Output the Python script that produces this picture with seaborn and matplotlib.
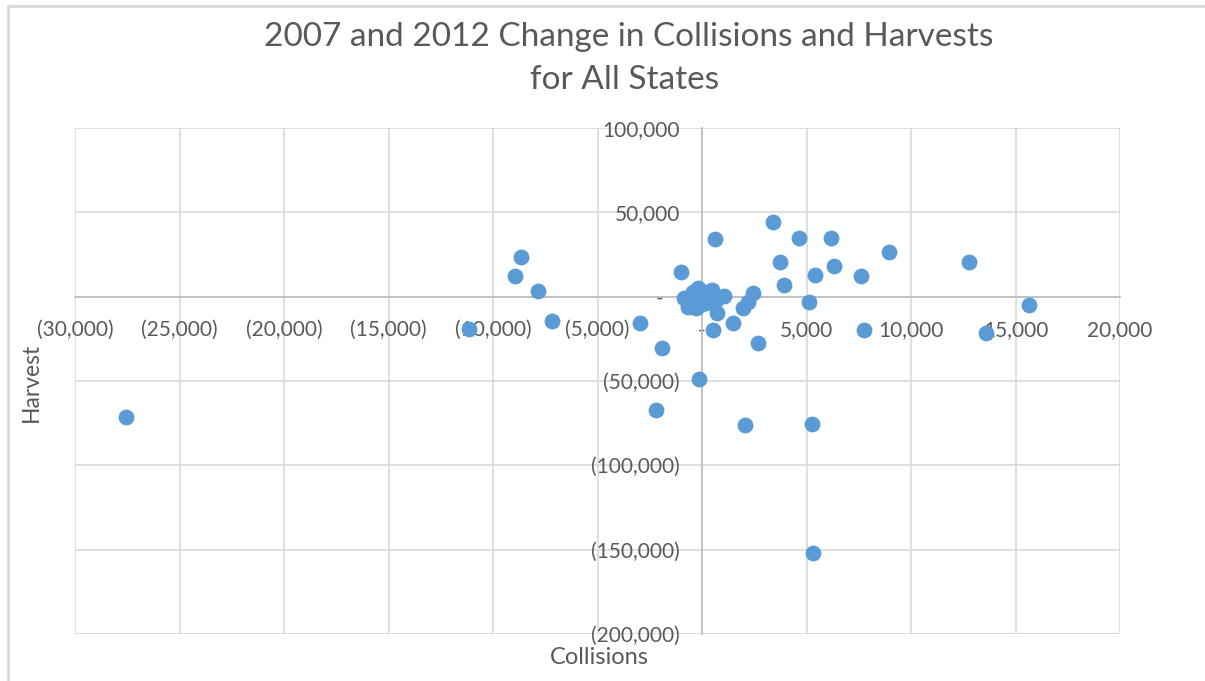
import matplotlib
matplotlib.use("Agg")
import matplotlib.pyplot as plt
from matplotlib.ticker import FuncFormatter, MultipleLocator
from matplotlib.lines import Line2D
import seaborn as sns
import pandas as pd

# Change in collisions and harvests between 2007 and 2012, one point per state
collisions = [
    -27560, -8660, -8950, -7850, -7180, -11150, -2970, -1910, -2200, -140,
    620, -1000, 3400, 4640, 6170, 8950, 12780, 3730, 6320, 5410,
    7610, 3920, 5120, 15650, 7750, 13590, 720, 1480, 530, 2440,
    2200, 1960, 2680, 2060, 5260, 5310,
    -860, -670, -430, -190, -100, 100, 330, 480, 670, 1050,
    -290, -570, 190, -100,
]
harvest = [
    -71300, 23500, 12300, 3400, -14400, -19200, -15500, -30400, -67200, -48700,
    34200, 14600, 44300, 34800, 34800, 26500, 20600, 20600, 18200, 12900,
    12300, 6900, -3200, -4900, -19700, -21500, -9700, -15600, -19700, 2200,
    -3100, -6700, -27400, -76100, -75500, -152000,
    -800, -6100, 2800, 5200, -800, 2800, 1000, 4000, -2000, 400,
    -6700, -2000, -3700, -4900,
]
title_lines = ["2007 and 2012 Change in Collisions and Harvests", "for All States"]
x_title = "Collisions"
y_title = "Harvest"

df = pd.DataFrame({"Collisions": collisions, "Harvest": harvest})

sns.set_theme(style="white")
plt.rcParams["font.family"] = ["Lato", "DejaVu Sans"]

TEXT = "#595959"
GRID = "#D9D9D9"
AXIS = "#BFBFBF"
BLUE = "#5B9BD5"

fig = plt.figure(figsize=(12.05, 6.81), dpi=100)
ax = fig.add_axes([75 / 1205, 1 - 634 / 681, (1120 - 75) / 1205, (634 - 128) / 681])

sns.scatterplot(data=df, x="Collisions", y="Harvest", ax=ax, color=BLUE,
                s=130, linewidth=0, zorder=3)

ax.set_xlim(-30000, 20000)
ax.set_ylim(-200000, 100000)
ax.xaxis.set_major_locator(MultipleLocator(5000))
ax.yaxis.set_major_locator(MultipleLocator(50000))


def acct(v, pos=None, trail=""):
    if abs(v) < 1e-9:
        return "-" + trail
    s = f"{abs(v):,.0f}"
    return f"({s})" if v < 0 else s


ax.xaxis.set_major_formatter(FuncFormatter(lambda v, p: acct(v)))
ax.yaxis.set_major_formatter(FuncFormatter(lambda v, p: acct(v, trail="   ")))

ax.grid(True, color=GRID, linewidth=1.2, zorder=0)
ax.set_axisbelow(True)

# axes cross at the origin
for side in ["top", "right"]:
    ax.spines[side].set_visible(False)
ax.spines["left"].set_position(("data", 0))
ax.spines["bottom"].set_position(("data", 0))
for side in ["left", "bottom"]:
    ax.spines[side].set_color(AXIS)
    ax.spines[side].set_linewidth(1.3)
    ax.spines[side].set_zorder(1)

ax.tick_params(axis="x", length=0, pad=17, labelsize=15, labelcolor=TEXT)
ax.tick_params(axis="y", length=0, pad=16, labelsize=15, labelcolor=TEXT)
ax.set_xlabel("")
ax.set_ylabel("")

fig.text(599 / 1205, 1 - 657 / 681, x_title, ha="center", va="center",
         fontsize=17, color=TEXT)
fig.text(31 / 1205, 1 - 382 / 681, y_title, ha="center", va="center",
         rotation=90, fontsize=16.5, color=TEXT)

fig.text(629 / 1205, 1 - 37 / 681, title_lines[0], ha="center", va="center",
         fontsize=24, color=TEXT)
fig.text(625 / 1205, 1 - 80 / 681, title_lines[1], ha="center", va="center",
         fontsize=24, color=TEXT)

# chart frame
fig.add_artist(Line2D([8 / 1205, 1], [1 - 6 / 681, 1 - 6 / 681],
                      transform=fig.transFigure, color=GRID, linewidth=2))
fig.add_artist(Line2D([8 / 1205, 8 / 1205], [0, 1 - 6 / 681],
                      transform=fig.transFigure, color=GRID, linewidth=2))

fig.savefig("out.png", dpi=100)
